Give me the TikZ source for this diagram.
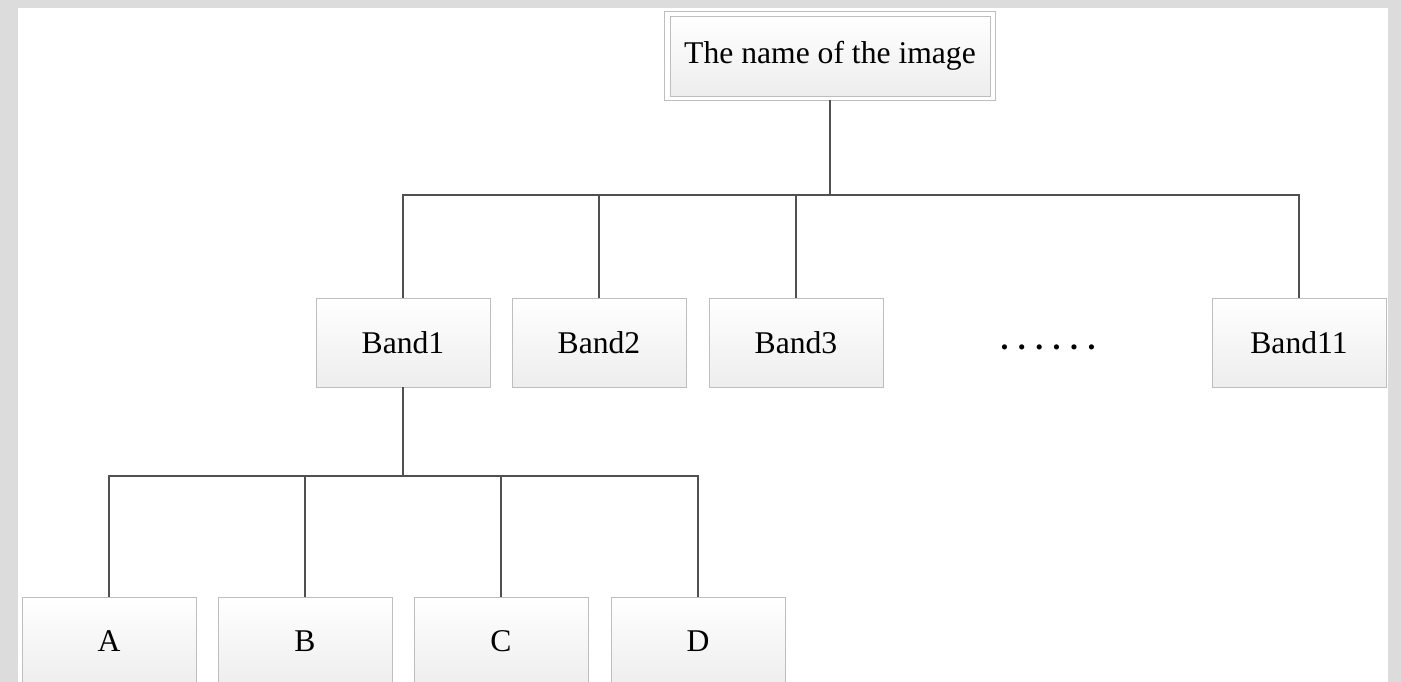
\documentclass[tikz,border=0pt]{standalone}
\usepackage{fontspec}
\setmainfont{Liberation Serif}
\usetikzlibrary{positioning, calc, shadows}
\definecolor{framecol}{RGB}{220,220,220}
\definecolor{boxline}{RGB}{190,190,190}
\definecolor{linkcol}{RGB}{80,80,80}

\begin{document}
\begin{tikzpicture}[
			x=0.02cm, y=-0.02cm,
			box/.style={
				draw=boxline,
				rectangle,
				top color=white,
				bottom color=black!7,
				drop shadow={shadow xshift=0.4pt, shadow yshift=-0.7pt, opacity=0.2},
				minimum width=3.48cm,
				minimum height=1.78cm,
				inner sep=0pt,
				font=\fontsize{18}{20}\selectfont
			},
			rootbox/.style={
				box,
				minimum width=6.4cm,
				minimum height=1.6cm
			},
			link/.style={
				draw=linkcol,
				line width=1.1pt
			}
			]
			% frame
			\fill[framecol] (0,0) rectangle (1401,682);
			\fill[white] (18,8) rectangle (1388,682);
			\useasboundingbox (0,0) rectangle (1401,682);
			\clip (0,0) rectangle (1401,682);
			
			% bus levels
			\coordinate (bus1) at (0,195);
			\coordinate (bus2) at (0,476);
			
			% Nodes
			\node[rootbox] (root) at (830,56) {The name of the image};
			\draw[boxline, line width=0.8pt] ($(root.north west)+(-5,-4)$) rectangle ($(root.south east)+(5,4)$);
			\node[box] (b1) at (403,342.5) {Band1};
			\node[box] (b2) at (599,342.5) {Band2};
			\node[box] (b3) at (796,342.5) {Band3};
			\node[box] (b11) at (1299,342.5) {Band11};
			\node[font=\fontsize{18}{20}\selectfont\bfseries\addfontfeature{LetterSpace=30}] (dots) at (1048,347) {......};
			\node[box] (a) at (109,641.5) {A};
			\node[box] (b) at (305,641.5) {B};
			\node[box] (c) at (501,641.5) {C};
			\node[box] (d) at (698,641.5) {D};
			
			% Links
			\foreach \n in {b1,b2,b3,b11}
			\draw[link] (root.south) ++(0,4) -- (root.south |- bus1) -| (\n.north);
			\foreach \n in {a,b,c,d}
			\draw[link] (b1.south) -- (b1.south |- bus2) -| (\n.north);
		\end{tikzpicture}
\end{document}
